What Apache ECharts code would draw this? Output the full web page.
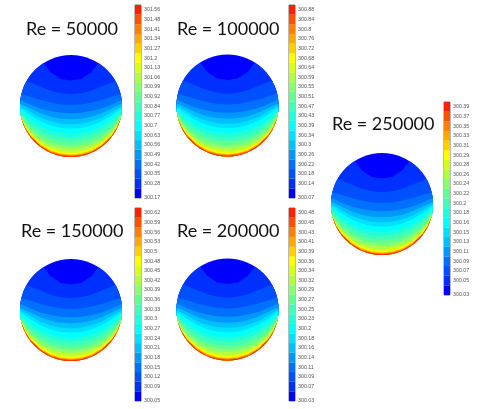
<!DOCTYPE html>
<html>
<head>
<meta charset="utf-8">
<title>Re contours</title>
<script src="https://cdn.jsdelivr.net/npm/echarts@6/dist/echarts.min.js"></script>
<style>
html, body { margin: 0; padding: 0; background: #fff; }
#main { width: 477px; height: 409px; filter: blur(0.45px); }
</style>
</head>
<body>
<div id="main"></div>
<script>
// colorbar tick labels, top to bottom
var ticks50000 = ['301.56','301.48','301.41','301.34','301.27','301.2','301.13','301.06','300.99','300.92','300.84','300.77','300.7','300.63','300.56','300.49','300.42','300.35','300.28','300.17']
var ticks100000 = ['300.88','300.84','300.8','300.76','300.72','300.68','300.64','300.59','300.55','300.51','300.47','300.43','300.39','300.34','300.3','300.26','300.22','300.18','300.14','300.07']
var ticks150000 = ['300.62','300.59','300.56','300.53','300.5','300.48','300.45','300.42','300.39','300.36','300.33','300.3','300.27','300.24','300.21','300.18','300.15','300.12','300.09','300.05']
var ticks200000 = ['300.48','300.45','300.43','300.41','300.39','300.36','300.34','300.32','300.29','300.27','300.25','300.23','300.2','300.18','300.16','300.14','300.11','300.09','300.07','300.03']
var ticks250000 = ['300.39','300.37','300.35','300.33','300.31','300.29','300.28','300.26','300.24','300.22','300.2','300.18','300.16','300.15','300.13','300.11','300.09','300.07','300.05','300.03']

// contour height (disc radius = 1) at each |x|, lowest colour first
var contourX = [0, 0.2, 0.4, 0.6, 0.8, 0.9, 0.97, 1.05]
var contourLevels = [
    [1.1, 1.1, 1.1, 1.1, 1.1, 1.1, 1.1, 1.1],
    [0.5, 0.53, 0.66, 0.92, 1.1, 1.2, 1.3, 1.4],
    [0.23, 0.25, 0.3, 0.38, 0.46, 0.5, 0.54, 0.56],
    [0.02, 0.03, 0.07, 0.12, 0.18, 0.21, 0.23, 0.25],
    [-0.14, -0.13, -0.1, -0.05, 0.03, 0.08, 0.11, 0.13],
    [-0.26, -0.25, -0.21, -0.14, -0.05, 0, 0.03, 0.05],
    [-0.36, -0.35, -0.3, -0.23, -0.12, -0.06, -0.02, 0],
    [-0.44, -0.43, -0.38, -0.3, -0.18, -0.11, -0.06, -0.04],
    [-0.55, -0.53, -0.48, -0.39, -0.26, -0.17, -0.1, -0.08],
    [-0.63, -0.61, -0.56, -0.47, -0.33, -0.23, -0.14, -0.1],
    [-0.71, -0.69, -0.64, -0.55, -0.4, -0.29, -0.18, -0.14],
    [-0.78, -0.76, -0.71, -0.61, -0.45, -0.33, -0.21, -0.16],
    [-0.84, -0.82, -0.77, -0.67, -0.5, -0.36, -0.23, -0.18],
    [-0.89, -0.87, -0.815, -0.705, -0.53, -0.385, -0.25, -0.19],
    [-0.925, -0.905, -0.845, -0.735, -0.55, -0.4, -0.25, -0.2],
    [-0.945, -0.925, -0.865, -0.75, -0.565, -0.41, -0.26, -0.2],
    [-0.96, -0.94, -0.88, -0.765, -0.575, -0.42, -0.26, -0.2],
    [-0.97, -0.95, -0.89, -0.775, -0.58, -0.425, -0.26, -0.2],
    [-0.98, -0.96, -0.9, -0.785, -0.59, -0.43, -0.26, -0.2],
    [-0.99, -0.97, -0.91, -0.79, -0.595, -0.433, -0.26, -0.2]
]

var bandColors = ['#0000ff','#0030ff','#0050ff','#0070ff','#0098ff','#00c0ff','#00e0ff','#00ffff','#20ffd8','#40ffb8',
    '#60ff90','#88ff70','#b0ff40','#d8ff18','#ffff00','#ffd000','#ffa800','#ff8000','#ff5000','#ff2000']

// where each panel sits on the page
var panels = [
    { title: 'Re = 50000', ticks: ticks50000, titleX: 26, titleY: 30, cx: 71, cy: 106, barX: 135, barY: 5 },
    { title: 'Re = 100000', ticks: ticks100000, titleX: 177, titleY: 30, cx: 227.5, cy: 105.5, barX: 289, barY: 5 },
    { title: 'Re = 250000', ticks: ticks250000, titleX: 332, titleY: 125, cx: 382, cy: 204, barX: 444, barY: 102 },
    { title: 'Re = 150000', ticks: ticks150000, titleX: 21, titleY: 232, cx: 71, cy: 310, barX: 135, barY: 208 },
    { title: 'Re = 200000', ticks: ticks200000, titleX: 177, titleY: 232, cx: 227.5, cy: 309.5, barX: 289, barY: 208 }
]

var radius = 51
var barWidth = 6
var barHeight = 193
var tickPositions = [0.07, 1.5, 2.5, 3.5, 4.5, 5.5, 6.5, 7.5, 8.5, 9.5, 10.5, 11.5, 12.5, 13.5, 14.5, 15.5, 16.5, 17.5, 18.5, 19.5]

function renderContour(params, api) {
    var level = contourLevels[api.value(0)]
    var points = []
    for (var i = contourX.length - 1; i > 0; i--) {
        points.push(api.coord([-contourX[i], level[i]]))
    }
    for (var j = 0; j < contourX.length; j++) {
        points.push(api.coord([contourX[j], level[j]]))
    }
    points.push(api.coord([1.05, -1.05]))
    points.push(api.coord([-1.05, -1.05]))
    var center = api.coord([0, 0])
    var r = api.size([1, 1])[0]
    return {
        type: 'polygon',
        shape: { points: points },
        style: { fill: bandColors[api.value(0)] },
        clipPath: { type: 'circle', shape: { cx: center[0], cy: center[1], r: r } }
    }
}

function renderBand(params, api) {
    var p = api.coord([0, api.value(0) + 1])
    var s = api.size([1, 1])
    return {
        type: 'rect',
        shape: { x: p[0], y: p[1], width: s[0], height: s[1] },
        style: { fill: bandColors[api.value(0)] }
    }
}

var option = { animation: false, title: [], grid: [], xAxis: [], yAxis: [], series: [] }

panels.forEach(function (panel) {
    option.title.push({
        text: panel.title,
        left: panel.titleX,
        top: panel.titleY - 10,
        padding: 0,
        textStyle: { fontFamily: 'Lato', fontWeight: 'normal', fontSize: 18, color: '#111' }
    })

    // disc
    var discIndex = option.grid.length
    option.grid.push({ left: panel.cx - radius, top: panel.cy - radius, width: radius * 2, height: radius * 2 })
    option.xAxis.push({ type: 'value', gridIndex: discIndex, min: -1, max: 1, show: false })
    option.yAxis.push({ type: 'value', gridIndex: discIndex, min: -1, max: 1, show: false })
    option.series.push({
        type: 'custom',
        xAxisIndex: discIndex,
        yAxisIndex: discIndex,
        coordinateSystem: 'cartesian2d',
        clip: false,
        renderItem: renderContour,
        data: contourLevels.map(function (c, i) { return [i] }),
        encode: { x: 0, y: 0 }
    })

    // colorbar
    var barIndex = option.grid.length
    option.grid.push({
        show: true,
        left: panel.barX,
        top: panel.barY,
        width: barWidth,
        height: barHeight,
        borderColor: '#777',
        borderWidth: 1,
        backgroundColor: '#fff'
    })
    option.xAxis.push({ type: 'value', gridIndex: barIndex, min: 0, max: 1, show: false })
    option.yAxis.push({
        type: 'value',
        gridIndex: barIndex,
        position: 'right',
        min: 0,
        max: 20,
        splitLine: { show: false },
        axisLine: { show: false },
        axisTick: { show: false },
        axisLabel: {
            show: true,
            margin: 3,
            fontSize: 5.3,
            fontFamily: 'Liberation Sans',
            color: '#555',
            customValues: tickPositions,
            formatter: (function (ticks) {
                return function (v) { return ticks[19 - Math.floor(v)] }
            })(panel.ticks)
        }
    })
    option.series.push({
        type: 'custom',
        xAxisIndex: barIndex,
        yAxisIndex: barIndex,
        coordinateSystem: 'cartesian2d',
        renderItem: renderBand,
        clip: false,
        data: bandColors.map(function (c, i) { return [i] }),
        encode: { x: 0, y: 0 }
    })
})

var chart = echarts.init(document.getElementById('main'))
chart.setOption(option)
</script>
</body>
</html>
